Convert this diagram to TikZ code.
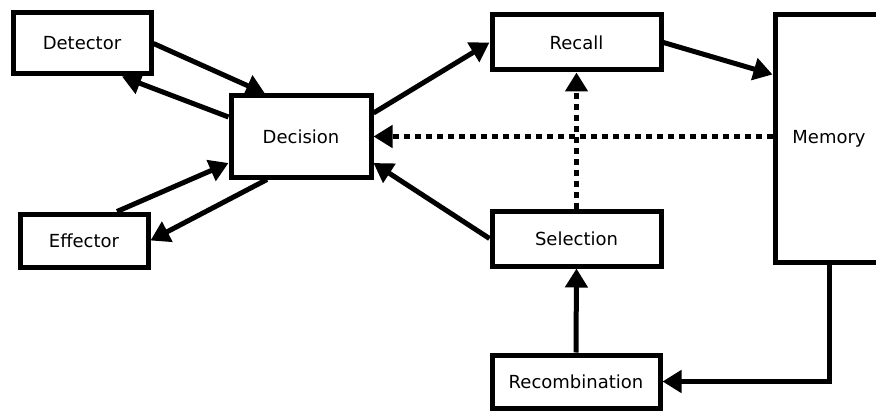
\documentclass[tikz,border=0pt]{standalone}
\usepackage{fontspec}
\setmainfont{DejaVu Sans}
\usetikzlibrary{arrows.meta,calc}
\begin{document}
\begin{tikzpicture}[x=1pt,y=-1pt,
  box/.style={draw, line width=5pt, fill=white, inner sep=0pt, font=\fontsize{18}{21}\selectfont},
  conn/.style={line width=5pt, -{Triangle[length=19pt,width=22pt]}},
  dotconn/.style={conn, dash pattern=on 5.5pt off 5.5pt}]
\useasboundingbox (0,0) rectangle (876,412);
\clip (0,0) rectangle (876,412);
\node[box, minimum width=138pt, minimum height=61pt] (det) at (82,43.5) {Detector};
\node[box, minimum width=140pt, minimum height=81pt] (dec) at (301,136.5) {Decision};
\node[box, minimum width=128pt, minimum height=53pt] (eff) at (84,240.5) {Effector};
\node[box, minimum width=169pt, minimum height=55pt] (rec) at (576.5,42.5) {Recall};
\node[box, minimum width=169pt, minimum height=55pt] (sel) at (576.5,238.5) {Selection};
\node[box, minimum width=168pt, minimum height=53pt] (rcb) at (576,381.5) {Recombination};
\node[box, minimum width=108pt, minimum height=247pt] (mem) at (829,138.5) {Memory};

\draw[conn] (det.east) -- ($(dec.north)+(-36,0)$);
\draw[conn] ($(dec.west)+(0,-19.5)$) -- ($(det.south)+(40,0)$);
\draw[conn] ($(eff.north)+(33,0)$) -- ($(dec.west)+(0,26.5)$);
\draw[conn] ($(dec.south)+(-34,0)$) -- (eff.east);
\draw[conn] ($(dec.east)+(0,-23.5)$) -- (rec.west);
\draw[conn] (rec.east) -- ($(mem.north west)+(0,62)$);
\draw[dotconn] (mem.west |- dec.east) -- (dec.east);
\draw[dotconn] (sel.north) -- (rec.south);
\draw[conn] (sel.west) -- ($(dec.east)+(0,26.5)$);
\draw[conn] (rcb.north) -- (sel.south);
\draw[conn] (mem.south) -- (mem.south |- rcb.east) -- (rcb.east);
\end{tikzpicture}
\end{document}
